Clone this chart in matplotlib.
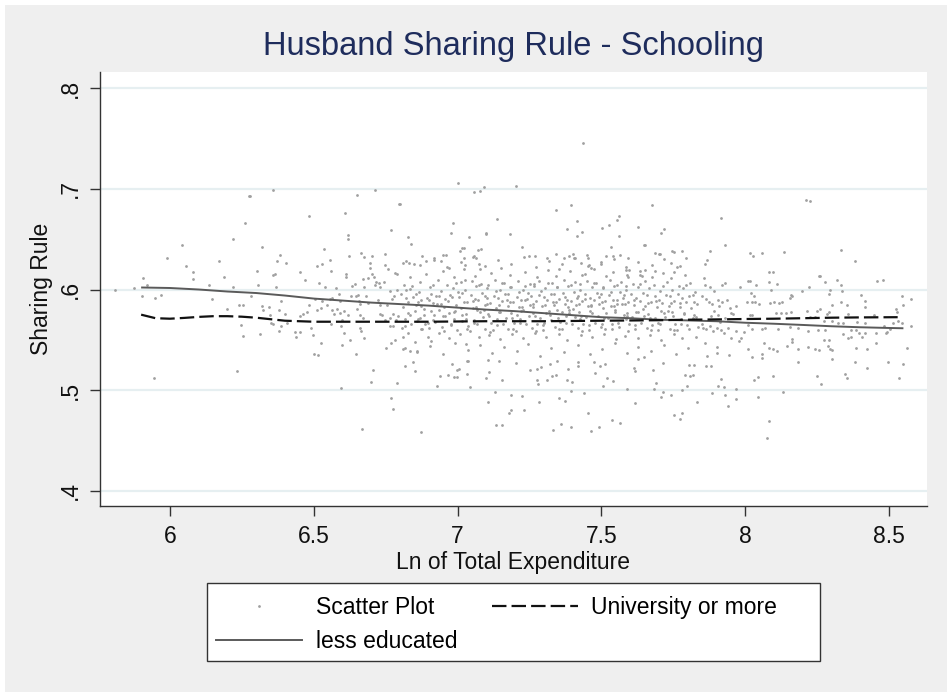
import matplotlib
matplotlib.use("Agg")
import matplotlib.pyplot as plt
from matplotlib.lines import Line2D
from matplotlib.patches import Rectangle

plt.rcParams['font.family'] = ['Liberation Sans', 'DejaVu Sans']

# ---------------- data ----------------
title = "Husband Sharing Rule - Schooling"
xlabel = "Ln of Total Expenditure"
ylabel = "Sharing Rule"
xticks = [6, 6.5, 7, 7.5, 8, 8.5]
xticklabels = ["6", "6.5", "7", "7.5", "8", "8.5"]
yticks = [0.4, 0.5, 0.6, 0.7, 0.8]
yticklabels = [".4", ".5", ".6", ".7", ".8"]

# individually visible (sparser) scatter points
sparse_points = [
    (5.808, .600), (5.876, .601), (5.905, .611), (5.922, .604), (5.902, .594), (5.949, .592),
    (5.969, .595), (5.990, .631), (6.043, .644), (6.055, .623), (6.079, .617), (6.079, .610),
    (5.946, .512), (6.136, .604), (6.148, .591), (6.169, .628), (6.188, .612), (6.197, .581),
    (6.220, .650), (6.220, .602), (6.260, .666), (6.241, .585), (6.255, .585), (6.246, .565),
    (6.254, .554), (6.233, .519), (6.276, .693),
    (6.280, .693), (6.359, .699), (6.651, .694), (6.713, .699), (6.796, .685), (6.484, .673),
    (6.608, .676), (6.618, .654), (6.618, .650), (6.769, .659), (6.321, .642), (6.383, .634),
    (6.371, .628), (6.402, .626), (6.534, .640), (6.556, .629), (6.513, .623), (6.530, .625),
    (6.454, .617), (6.560, .618), (6.303, .618), (6.357, .614), (6.365, .615), (6.468, .609),
    (6.518, .606), (6.611, .615), (6.611, .612), (6.622, .633), (6.666, .636), (6.674, .632),
    (6.701, .633), (6.747, .635), (6.695, .626), (6.695, .621), (6.749, .624), (6.759, .620),
    (6.306, .604), (6.370, .602), (6.283, .594), (6.387, .589), (6.321, .584), (6.323, .580),
    (6.345, .583), (6.349, .575), (6.353, .567), (6.357, .566), (6.380, .580), (6.399, .576),
    (6.385, .564), (6.380, .559), (6.407, .567), (6.312, .556), (6.434, .558), (6.437, .553),
    (6.454, .558), (6.451, .574), (6.461, .576), (6.477, .578), (6.483, .585), (6.492, .562),
    (6.498, .555), (6.501, .536), (6.514, .535), (6.524, .547), (6.504, .591), (6.528, .589),
    (6.510, .580), (6.526, .582), (6.540, .602), (6.547, .585), (6.555, .591), (6.564, .592),
    (6.562, .580), (6.570, .576), (6.561, .566), (6.578, .601), (6.589, .596), (6.592, .589),
    (6.582, .581), (6.591, .577), (6.598, .570), (6.596, .564), (6.606, .579), (6.620, .575),
    (6.606, .557), (6.598, .545), (6.626, .550), (6.633, .603), (6.644, .605), (6.629, .594),
    (6.647, .594), (6.654, .595), (6.659, .589), (6.662, .586), (6.649, .581), (6.660, .575),
    (6.671, .572), (6.660, .562), (6.666, .559), (6.674, .552), (6.647, .536), (6.673, .610),
    (6.687, .611), (6.676, .602), (6.681, .594), (6.687, .587), (6.703, .615), (6.709, .612),
    (6.713, .604), (6.718, .607), (6.728, .606), (6.731, .602), (6.722, .590), (6.730, .585),
    (6.731, .576), (6.739, .575), (6.746, .607), (6.755, .585), (6.747, .570), (6.707, .520),
    (6.698, .508), (6.596, .502), (6.667, .461), (6.751, .542), (6.769, .547), (6.784, .550),
    (6.769, .492), (6.774, .481), (6.789, .507), (6.764, .599), (6.771, .591), (6.779, .594),
    (6.788, .600), (6.766, .572), (6.776, .576), (6.785, .570), (6.794, .574), (6.764, .564),
    (6.774, .564), (6.783, .616), (6.789, .615),
    (7.003, .706), (7.056, .697), (7.079, .698), (7.092, .702), (7.203, .703), (6.800, .685),
    (7.137, .670), (6.985, .666), (6.978, .656), (6.827, .652), (6.837, .645), (7.040, .652),
    (7.098, .656), (7.100, .655), (7.181, .655), (7.225, .642), (7.016, .641), (7.023, .641),
    (7.009, .638), (7.070, .639), (7.083, .640), (6.876, .633), (6.918, .629), (6.943, .628),
    (6.951, .634), (6.960, .634), (7.249, .633), (7.268, .633), (7.310, .631), (6.812, .626),
    (6.832, .626), (6.850, .625), (6.890, .628), (6.972, .621), (7.024, .631), (7.027, .624),
    (7.054, .632), (7.065, .631), (7.074, .625), (7.078, .620),
    (6.846, .528), (6.851, .519), (6.816, .524), (6.835, .539), (6.858, .539), (6.816, .542),
    (6.930, .504), (6.938, .514), (6.966, .515), (6.982, .526), (6.989, .513), (6.999, .513),
    (6.998, .520), (7.005, .521), (7.032, .529), (7.036, .529), (7.032, .516), (7.043, .503),
    (7.100, .512), (7.111, .518), (7.105, .530), (7.106, .488), (7.130, .498), (7.154, .510),
    (7.143, .529), (7.133, .465), (7.155, .465), (7.180, .477), (7.185, .480), (7.187, .495),
    (7.225, .494), (7.231, .480), (7.203, .527), (7.252, .520), (7.277, .521), (7.291, .523),
    (7.275, .510), (7.279, .506), (7.310, .510), (7.282, .488), (6.874, .458),
    (7.435, .745), (7.342, .679), (7.396, .684), (7.676, .684), (7.416, .668), (7.381, .660),
    (7.414, .653), (7.433, .657), (7.503, .661), (7.527, .664), (7.553, .669), (7.562, .673),
    (7.563, .653), (7.628, .662), (7.648, .644), (7.651, .644), (7.709, .656), (7.719, .660),
    (7.533, .642), (7.342, .635), (7.371, .631), (7.387, .633), (7.401, .635), (7.404, .631),
    (7.428, .626), (7.450, .634), (7.452, .631), (7.458, .624), (7.464, .621), (7.442, .615),
    (7.353, .620), (7.500, .625), (7.516, .633), (7.544, .630), (7.564, .634), (7.592, .631),
    (7.687, .636), (7.699, .635), (7.703, .635), (7.745, .638), (7.754, .637), (7.782, .638),
    (7.795, .631), (7.741, .626), (7.753, .617), (7.775, .623), (7.685, .618), (7.586, .619),
    (7.597, .619), (7.590, .614), (7.634, .614), (7.641, .613), (7.651, .619),
    (7.322, .526), (7.328, .514), (7.342, .515), (7.347, .529), (7.353, .492), (7.373, .489),
    (7.333, .460), (7.358, .466), (7.394, .463), (7.379, .510), (7.399, .508), (7.385, .521),
    (7.393, .499), (7.418, .528), (7.418, .524), (7.440, .497), (7.455, .477), (7.465, .459),
    (7.493, .463), (7.473, .528), (7.479, .517), (7.494, .524), (7.504, .504), (7.513, .526),
    (7.519, .512), (7.539, .509), (7.538, .470), (7.566, .467), (7.590, .501), (7.612, .522),
    (7.617, .519), (7.618, .487), (7.629, .531), (7.649, .533), (7.678, .520), (7.683, .501),
    (7.690, .507), (7.707, .493), (7.715, .498), (7.742, .495), (7.713, .527), (7.752, .475),
    (7.775, .471), (7.780, .477), (7.779, .500), (7.796, .504), (7.790, .515), (7.808, .514),
    (7.819, .515), (7.806, .525), (7.822, .525), (7.831, .488),
    (8.212, .689), (8.225, .688), (7.917, .671), (7.931, .644), (8.017, .636), (8.028, .633),
    (8.057, .636), (8.134, .637), (7.879, .638), (7.868, .629), (7.859, .625), (7.857, .611),
    (7.859, .604), (7.878, .602), (7.893, .599), (7.921, .604), (7.931, .606), (7.983, .602),
    (8.011, .608), (8.017, .608), (8.020, .597), (8.032, .594), (8.039, .604), (8.083, .617),
    (8.097, .617), (8.081, .607), (8.091, .600), (8.112, .605), (8.154, .592), (8.158, .595),
    (8.162, .594), (8.198, .599), (8.222, .602), (8.257, .613), (7.849, .594), (7.864, .591),
    (7.875, .588), (7.885, .586), (7.893, .579), (7.882, .574), (7.907, .590), (7.909, .584),
    (7.918, .588), (7.936, .590), (7.906, .575), (7.914, .568), (7.930, .572), (7.947, .582),
    (7.951, .577), (7.959, .576), (7.967, .584), (8.006, .588), (8.023, .588), (8.035, .588),
    (8.047, .586), (8.016, .575), (8.024, .575), (8.086, .587), (8.100, .588), (8.116, .587),
    (8.129, .588), (8.106, .577), (8.125, .577), (8.142, .577), (8.158, .578), (8.214, .579),
    (8.225, .573), (8.243, .573), (8.249, .579), (7.849, .566), (7.855, .562), (7.865, .561),
    (7.878, .564), (7.889, .559), (7.901, .562), (7.915, .560), (7.926, .557), (7.941, .562),
    (7.951, .552), (7.968, .559), (7.980, .549), (7.987, .552), (7.997, .558), (8.009, .565),
    (8.023, .561), (8.008, .541), (8.023, .533), (8.057, .536), (8.057, .532), (8.057, .561),
    (8.069, .562), (8.067, .547), (8.081, .542), (8.098, .541), (8.112, .539), (8.113, .561),
    (8.147, .544), (8.162, .551), (8.162, .548), (8.154, .563), (8.185, .562), (8.183, .541),
    (8.185, .528), (8.220, .543), (8.241, .541), (8.258, .540), (8.252, .560), (8.220, .559),
    (7.859, .547), (7.868, .534), (7.863, .524), (7.880, .524), (7.901, .543), (7.903, .537),
    (7.943, .535), (7.917, .511), (7.907, .504), (7.926, .503), (7.929, .495), (7.884, .497),
    (7.940, .484), (7.968, .501), (7.969, .491), (8.031, .510), (8.045, .513), (8.045, .493),
    (8.098, .514), (8.130, .498), (8.082, .469), (8.075, .453), (8.249, .514),
    (8.334, .639), (8.381, .628), (8.260, .613), (8.276, .607), (8.318, .609), (8.332, .604),
    (8.337, .599), (8.457, .608), (8.478, .609), (8.296, .600), (8.292, .596), (8.401, .595),
    (8.544, .594), (8.578, .591), (8.418, .589), (8.415, .583), (8.332, .588), (8.353, .585),
    (8.301, .585), (8.550, .585), (8.523, .581), (8.527, .578), (8.291, .578), (8.283, .576),
    (8.260, .581), (8.359, .576), (8.449, .575), (8.275, .569), (8.301, .569), (8.324, .567),
    (8.341, .567), (8.388, .568), (8.416, .567), (8.515, .567), (8.530, .569), (8.546, .567),
    (8.575, .564), (8.276, .560), (8.367, .560), (8.385, .560), (8.484, .564), (8.494, .558),
    (8.490, .557), (8.503, .561), (8.341, .556), (8.356, .552), (8.368, .553), (8.394, .557),
    (8.406, .553), (8.418, .557), (8.454, .557), (8.275, .550), (8.292, .550), (8.289, .544),
    (8.295, .541), (8.303, .540), (8.384, .542), (8.422, .541), (8.454, .547), (8.561, .542),
    (8.303, .531), (8.383, .528), (8.422, .522), (8.495, .528), (8.547, .526), (8.348, .516),
    (8.353, .512), (8.534, .512), (8.265, .506),
]

# dense central cloud (approximate positions)
core_points = [
    (6.803, .596), (6.812, .583), (6.818, .571), (6.806, .562), (6.815, .604), (6.809, .553),
    (6.826, .588), (6.834, .575), (6.822, .600), (6.838, .566), (6.829, .557), (6.833, .612),
    (6.846, .593), (6.853, .579), (6.858, .569), (6.843, .603), (6.851, .548), (6.856, .585),
    (6.866, .598), (6.874, .584), (6.863, .571), (6.877, .561), (6.869, .607), (6.872, .590),
    (6.884, .581), (6.893, .592), (6.887, .566), (6.896, .553), (6.891, .615), (6.883, .575),
    (6.905, .602), (6.913, .587), (6.918, .575), (6.902, .562), (6.909, .596), (6.915, .570), (6.907, .549),
    (6.926, .594), (6.935, .580), (6.922, .568), (6.931, .609), (6.937, .557), (6.928, .586),
    (6.944, .599), (6.953, .583), (6.958, .574), (6.947, .563), (6.951, .618), (6.956, .591),
    (6.966, .589), (6.972, .577), (6.977, .566), (6.963, .604), (6.969, .552), (6.975, .595),
    (6.983, .601), (6.994, .585), (6.988, .571), (6.997, .560), (6.986, .612), (6.992, .579),
    (7.004, .593), (7.013, .582), (7.017, .569), (7.008, .556), (7.011, .607), (7.002, .598), (7.015, .575),
    (7.025, .600), (7.034, .588), (7.028, .576), (7.037, .564), (7.022, .620), (7.031, .546),
    (7.046, .595), (7.053, .582), (7.058, .570), (7.043, .559), (7.049, .608), (7.055, .589),
    (7.064, .603), (7.072, .590), (7.077, .578), (7.067, .566), (7.074, .553), (7.062, .613),
    (7.085, .597), (7.094, .585), (7.088, .573), (7.097, .561), (7.082, .605), (7.091, .580),
    (7.104, .601), (7.113, .587), (7.107, .576), (7.118, .567), (7.109, .555), (7.115, .616), (7.102, .592),
    (7.126, .594), (7.133, .582), (7.137, .571), (7.122, .560), (7.129, .609), (7.135, .599),
    (7.146, .600), (7.154, .589), (7.143, .578), (7.157, .566), (7.149, .551), (7.152, .621),
    (7.165, .596), (7.174, .584), (7.168, .572), (7.177, .561), (7.162, .606), (7.171, .590),
    (7.184, .602), (7.193, .588), (7.187, .577), (7.196, .567), (7.189, .556), (7.182, .614),
    (7.205, .593), (7.213, .583), (7.218, .571), (7.202, .559), (7.209, .608), (7.215, .598), (7.207, .575),
    (7.226, .600), (7.234, .590), (7.222, .579), (7.237, .566), (7.229, .552), (7.233, .617),
    (7.244, .597), (7.253, .585), (7.247, .574), (7.258, .562), (7.251, .605), (7.243, .591),
    (7.266, .603), (7.273, .589), (7.262, .577), (7.277, .566), (7.269, .557), (7.275, .612), (7.264, .583),
    (7.284, .595), (7.293, .584), (7.288, .572), (7.297, .560), (7.282, .608), (7.291, .599),
    (7.305, .601), (7.312, .590), (7.317, .579), (7.302, .567), (7.309, .553), (7.315, .619),
    (7.326, .596), (7.334, .585), (7.322, .575), (7.338, .563), (7.329, .606), (7.333, .588), (7.324, .570),
    (7.344, .602), (7.353, .591), (7.347, .580), (7.357, .568), (7.351, .556), (7.342, .613),
    (7.366, .597), (7.372, .586), (7.377, .574), (7.363, .561), (7.369, .609), (7.375, .593), (7.362, .578),
    (7.385, .603), (7.393, .589), (7.388, .577), (7.397, .566), (7.382, .550), (7.391, .618),
    (7.404, .598), (7.413, .585), (7.407, .573), (7.418, .562), (7.409, .607), (7.415, .592), (7.402, .581),
    (7.426, .600), (7.434, .589), (7.422, .578), (7.437, .566), (7.429, .555), (7.433, .614), (7.424, .571),
    (7.444, .596), (7.453, .584), (7.447, .573), (7.457, .560), (7.451, .608), (7.443, .591),
    (7.466, .602), (7.473, .590), (7.462, .579), (7.477, .567), (7.469, .553), (7.475, .620), (7.464, .585),
    (7.485, .597), (7.493, .586), (7.488, .574), (7.497, .563), (7.482, .606), (7.491, .593),
    (7.504, .601), (7.512, .589), (7.517, .577), (7.503, .566), (7.509, .556), (7.515, .613), (7.507, .582),
    (7.526, .595), (7.534, .584), (7.522, .572), (7.537, .561), (7.529, .609), (7.533, .598),
    (7.544, .603), (7.553, .590), (7.547, .578), (7.557, .567), (7.551, .551), (7.542, .617), (7.555, .586),
    (7.566, .598), (7.572, .586), (7.577, .575), (7.563, .563), (7.569, .607), (7.575, .592),
    (7.585, .600), (7.593, .588), (7.588, .577), (7.597, .566), (7.582, .554), (7.591, .612), (7.584, .571),
    (7.604, .596), (7.613, .585), (7.607, .573), (7.618, .561), (7.609, .605), (7.615, .590),
    (7.626, .602), (7.634, .589), (7.622, .578), (7.637, .567), (7.629, .552), (7.633, .618),
    (7.644, .597), (7.653, .584), (7.647, .574), (7.657, .562), (7.651, .608), (7.643, .581),
    (7.666, .601), (7.673, .588), (7.662, .576), (7.677, .565), (7.669, .555), (7.675, .612),
    (7.685, .594), (7.693, .583), (7.688, .572), (7.697, .560), (7.682, .604), (7.691, .589),
    (7.704, .599), (7.712, .587), (7.717, .577), (7.703, .566), (7.709, .550), (7.715, .616),
    (7.726, .595), (7.734, .584), (7.722, .573), (7.737, .561), (7.729, .607), (7.733, .579),
    (7.744, .600), (7.753, .589), (7.747, .578), (7.757, .566), (7.751, .556), (7.742, .611),
    (7.766, .596), (7.772, .583), (7.777, .571), (7.763, .560), (7.769, .603), (7.775, .587),
    (7.785, .601), (7.793, .588), (7.788, .576), (7.797, .565), (7.782, .552), (7.791, .614),
    (7.804, .594), (7.812, .582), (7.817, .572), (7.803, .561), (7.809, .606),
    (7.826, .598), (7.834, .586), (7.822, .575), (7.837, .563), (7.829, .553),
    (6.812, .541), (6.858, .538), (6.905, .544), (6.948, .536), (6.991, .547), (7.035, .540),
    (7.078, .545), (7.121, .537), (7.163, .543), (7.208, .539), (7.245, .546), (7.288, .534),
    (7.326, .542), (7.371, .538), (7.418, .545), (7.459, .536), (7.502, .541), (7.547, .547),
    (7.588, .537), (7.629, .543), (7.672, .539), (7.716, .545), (7.758, .536), (7.801, .542),
    (6.822, .628), (6.871, .624), (6.918, .631), (6.962, .622), (7.013, .627), (7.058, .633),
    (7.097, .623), (7.142, .629), (7.186, .625), (7.231, .632), (7.273, .622), (7.318, .628),
    (7.362, .625), (7.407, .631), (7.452, .623), (7.497, .627), (7.541, .633), (7.586, .622),
    (7.628, .627), (7.675, .624), (7.718, .630), (7.762, .622),
]

core_points_2 = [
    (6.821, .5912), (6.828, .5768), (6.817, .5641), (6.836, .6003),
    (6.861, .5879), (6.868, .5716), (6.857, .5958), (6.874, .5603),
    (6.901, .5897), (6.908, .5791), (6.896, .5672), (6.914, .6041),
    (6.941, .5852), (6.948, .5739), (6.937, .5931), (6.954, .5586),
    (6.981, .5924), (6.988, .5774), (6.976, .5648), (6.994, .6068),
    (7.021, .5871), (7.028, .5711), (7.017, .5962), (7.034, .5608), (7.026, .6097),
    (7.061, .5903), (7.068, .5796), (7.056, .5667), (7.074, .6042), (7.065, .5826),
    (7.101, .5858), (7.108, .5733), (7.097, .5939), (7.114, .5581), (7.105, .6049),
    (7.141, .5917), (7.148, .5772), (7.136, .5643), (7.154, .6063), (7.145, .5847),
    (7.181, .5876), (7.188, .5719), (7.177, .5953), (7.194, .5612), (7.185, .6021),
    (7.221, .5899), (7.228, .5798), (7.216, .5669), (7.234, .6038), (7.225, .5822),
    (7.261, .5853), (7.268, .5736), (7.257, .5934), (7.274, .5587), (7.265, .6052),
    (7.301, .5921), (7.308, .5771), (7.296, .5646), (7.314, .6066), (7.305, .5843),
    (7.341, .5874), (7.348, .5714), (7.337, .5957), (7.354, .5609), (7.345, .6024),
    (7.381, .5894), (7.388, .5795), (7.376, .5664), (7.394, .6047), (7.385, .5828),
    (7.421, .5861), (7.428, .5738), (7.417, .5936), (7.434, .5584), (7.425, .6055),
    (7.461, .5916), (7.468, .5769), (7.456, .5649), (7.474, .6061), (7.465, .5841),
    (7.501, .5878), (7.508, .5717), (7.497, .5951), (7.514, .5606), (7.505, .6027),
    (7.541, .5896), (7.548, .5793), (7.536, .5661), (7.554, .6044), (7.545, .5832),
    (7.581, .5857), (7.588, .5734), (7.577, .5943), (7.594, .5589), (7.585, .6036),
    (7.621, .5914), (7.628, .5776), (7.616, .5652), (7.634, .6059),
    (7.661, .5869), (7.668, .5713), (7.657, .5948), (7.674, .5601),
    (7.701, .5893), (7.708, .5789), (7.696, .5663), (7.714, .6033),
    (7.741, .5862), (7.748, .5741), (7.737, .5932), (7.754, .5594),
    (7.781, .5918), (7.788, .5767), (7.776, .5657), (7.794, .6048),
    (7.821, .5873), (7.828, .5726), (7.817, .5941),
]

# smoothed lines
less_x = [5.90, 6.00, 6.10, 6.20, 6.30, 6.40, 6.50, 6.60, 6.70, 6.80, 6.90, 7.00, 7.10,
          7.20, 7.30, 7.40, 7.50, 7.60, 7.70, 7.80, 7.90, 8.00, 8.10, 8.20, 8.30, 8.40,
          8.50, 8.55]
less_y = [0.602, 0.6015, 0.600, 0.598, 0.5965, 0.594, 0.591, 0.589, 0.587, 0.5855, 0.584,
          0.582, 0.580, 0.5785, 0.5765, 0.5745, 0.5725, 0.5715, 0.570, 0.5693, 0.5685,
          0.567, 0.566, 0.5648, 0.5635, 0.5625, 0.5618, 0.5615]

uni_x = [5.90, 5.95, 6.00, 6.05, 6.10, 6.15, 6.20, 6.25, 6.30, 6.35, 6.40, 6.50, 6.70,
         6.90, 7.10, 7.30, 7.50, 7.70, 7.80, 7.90, 8.00, 8.10, 8.20, 8.30, 8.40, 8.53]
uni_y = [0.575, 0.5715, 0.571, 0.5718, 0.5728, 0.5735, 0.5735, 0.573, 0.572, 0.5705,
         0.569, 0.568, 0.568, 0.568, 0.5685, 0.5685, 0.569, 0.5695, 0.570, 0.5703,
         0.5707, 0.571, 0.5715, 0.572, 0.5723, 0.5725]

legend_labels = ["Scatter Plot", "less educated", "University or more"]

# ---------------- figure ----------------
W, H = 952, 697
fig = plt.figure(figsize=(W / 100, H / 100), dpi=100)
fig.patch.set_facecolor("white")
bg = Rectangle((5 / W, 5 / H), (W - 10) / W, (H - 10) / H, transform=fig.transFigure,
               facecolor="#efefef", edgecolor="none", zorder=-10)
fig.patches.append(bg)

ax = fig.add_axes([100 / W, 1 - 506 / H, 827 / W, 434 / H])
ax.set_facecolor("white")

scatter_color = "#a0a0a0"
pts = sparse_points + core_points + core_points_2
sx = [p[0] for p in pts]
sy = [p[1] for p in pts]
ax.plot(sx, sy, linestyle="none", marker="o", markersize=2.0, markeredgewidth=0,
        color=scatter_color, zorder=2)

ax.plot(less_x, less_y, color="#5a5a5a", lw=1.4, zorder=3, solid_capstyle="butt")
ax.plot(uni_x, uni_y, color="#111111", lw=1.6, dashes=(6.5, 2.3), zorder=3)

ax.set_xlim(5.757, 8.632)
ax.set_ylim(0.385, 0.816)

ax.set_xticks(xticks)
ax.set_xticklabels(xticklabels)
ax.set_yticks(yticks)
ax.set_yticklabels(yticklabels, rotation=90, va="center")

ax.grid(axis="y", color="#e6eff1", lw=1.6, zorder=0)
ax.set_axisbelow(True)

for s in ["top", "right"]:
    ax.spines[s].set_visible(False)
for s in ["left", "bottom"]:
    ax.spines[s].set_color("#333333")
    ax.spines[s].set_linewidth(1.0)

ax.tick_params(axis="both", length=7, width=1.0, color="#333333", labelsize=16.5,
               labelcolor="#111111")
ax.tick_params(axis="x", pad=7)
ax.tick_params(axis="y", pad=6)

ax.set_xlabel(xlabel, fontsize=16.5, color="#111111", labelpad=2)
ax.set_ylabel(ylabel, fontsize=16.5, color="#111111", labelpad=4)

fig.text(513.5 / W, 1 - 47 / H, title, ha="center", va="center", fontsize=23.5,
         color="#1e2c5c")

# legend box drawn separately, entries placed inside it
box = Rectangle((207 / W, 1 - 661 / H), (820 - 207) / W, (661 - 583) / H,
                transform=fig.transFigure, facecolor="white", edgecolor="#333333",
                lw=1.0, zorder=1)
fig.patches.append(box)

handles = [
    Line2D([], [], linestyle="none", marker="o", markersize=2.0, markeredgewidth=0,
           color=scatter_color),
    Line2D([], [], color="#5a5a5a", lw=1.4),
    Line2D([], [], color="#111111", lw=1.6, dashes=(6.5, 2.3)),
]
leg = fig.legend(handles, legend_labels, ncol=2, loc="upper left",
                 bbox_to_anchor=(216 / W, 1 - 596 / H), borderaxespad=0, borderpad=0,
                 fontsize=16.5, handlelength=3.75, handletextpad=0.6, columnspacing=1.5,
                 labelspacing=0.47, frameon=False)
leg.set_zorder(5)

fig.savefig("out.png", dpi=100, facecolor=fig.get_facecolor())
